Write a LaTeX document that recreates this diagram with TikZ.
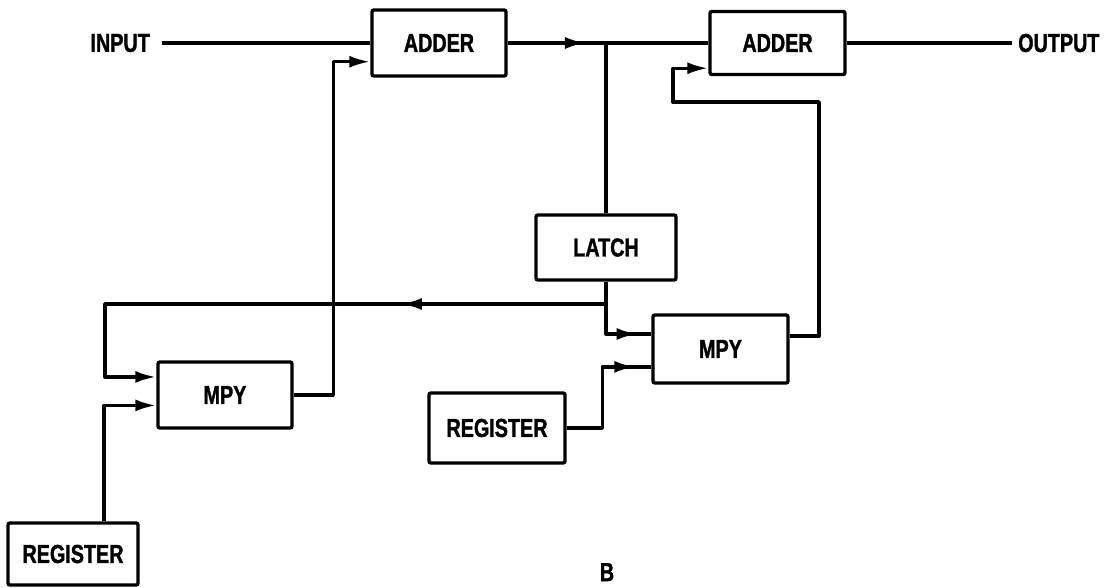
\documentclass[tikz,border=0pt]{standalone}
\usepackage{fontspec}
\newfontfamily\lblfont{Liberation Sans Bold}[FakeStretch=0.76,FakeBold=1.3]
\usetikzlibrary{arrows.meta,calc,decorations.markings}
\begin{document}
\begin{tikzpicture}[x=1pt,y=-1pt,
  every node/.style={font=\fontsize{26}{30}\lblfont, inner sep=0pt},
  blockbox/.style={draw, line width=3.4pt, rounded corners=2pt, minimum width=#1, minimum height=66pt},
  blockbox/.default=134pt,
  wire/.style={line width=3.4pt, line join=round},
  tip/.style={-{Latex[length=21pt,width=12pt]}},
  arrowat/.style={postaction={decorate,decoration={markings,
     mark=at position #1 with {\arrow{Latex[length=21pt,width=12pt]}}}}}
]
\useasboundingbox (0,0) rectangle (1108,588);

% blocks
\node[blockbox=134pt] (add1) at (439,43) {ADDER};
\node[blockbox=135pt, minimum height=63pt] (add2) at (777.5,43) {ADDER};
\node[blockbox=140pt, minimum height=65pt] (latch) at (606,247.5) {LATCH};
\node[blockbox=134pt] (mpy1) at (225,395) {MPY};
\node[blockbox=135pt, minimum height=68pt] (mpy2) at (720.5,349) {MPY};
\node[blockbox=130pt, minimum height=62pt] (reg1) at (73,554) {REGISTER};
\node[blockbox=136pt, minimum height=70pt] (reg2) at (497,428) {REGISTER};

% labels
\node[anchor=east] (inlbl) at (150,43) {INPUT};
\node[anchor=west] (outlbl) at (1018,43) {OUTPUT};
\node[anchor=north] (blbl) at (607,563) {B};

% coordinates
\coordinate (inL) at ([xshift=12pt]inlbl.east);
\coordinate (outR) at ([xshift=-6pt]outlbl.west);
\coordinate (jn) at (latch.north |- add1.east);
\coordinate (a1b) at ($(add1.north west)!0.77!(add1.south west)$);
\coordinate (a2b) at ($(add2.north west)!0.88!(add2.south west)$);
\coordinate (m1a) at ($(mpy1.north west)!0.24!(mpy1.south west)$);
\coordinate (m1b) at ($(mpy1.north west)!0.65!(mpy1.south west)$);
\coordinate (m2a) at ($(mpy2.north west)!0.29!(mpy2.south west)$);
\coordinate (m2b) at ($(mpy2.north west)!0.75!(mpy2.south west)$);
\coordinate (m2o) at ($(mpy2.north east)!0.32!(mpy2.south east)$);
\coordinate (br) at (606,304);
\coordinate (fbL) at (105,304);
\coordinate (lp1) at (819,102);
\coordinate (lp2) at (673,102);

% connectors
\draw[wire] (inL) -- (add1.west);
\draw[wire, arrowat=0.39] (add1.east) -- (add2.west);
\draw[wire] (add2.east) -- (outR);
\draw[wire] (jn) -- (latch.north);
\draw[wire, arrowat=0.86] (latch.south) |- (m2a);
\draw[wire, tip, arrowat=0.328] (br) -- (fbL) |- (m1a);
\draw[wire, tip] (mpy1.east) -| ([xshift=-37pt]a1b) -- (a1b);
\draw[wire, tip] ([xshift=31pt]reg1.north) |- (m1b);
\draw[wire, arrowat=0.89] (reg2.east) -| ([xshift=-49pt]m2b) -- (m2b);
\draw[wire, tip] (m2o) -| (lp1) -- (lp2) |- (a2b);
\end{tikzpicture}
\end{document}
